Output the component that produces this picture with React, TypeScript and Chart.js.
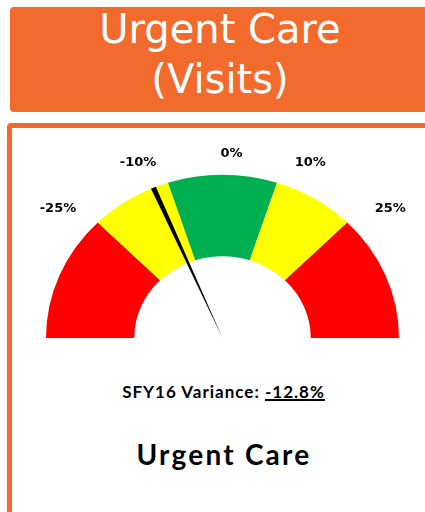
import React, { useEffect, useRef } from "react";
import { Chart, registerables } from "chart.js";

Chart.register(...registerables);

// ---- data ----
const BAND_EDGES = [-50, -25, -10, 10, 25, 50];
const BAND_NAMES = ["Low red", "Low yellow", "Green", "High yellow", "High red"];
const BAND_COLORS = ["#FF0000", "#FFFF00", "#00B050", "#FFFF00", "#FF0000"];
const TICK_VALUES = [-25, -10, 0, 10, 25];
const TICK_LABELS = ["-25%", "-10%", "0%", "10%", "25%"];
const VARIANCE = -12.8;
const TITLE_LINES = ["Urgent Care", "(Visits)"];
const VARIANCE_LABEL = "SFY16 Variance:";
const SUBTITLE = "Urgent Care";

const ORANGE = "#F26A2C";
const SQUASH = 0.925;

const bandSizes = BAND_EDGES.slice(1).map((e, i) => e - BAND_EDGES[i]);

const gaugePlugin = {
  id: "gaugeExtras",
  beforeDatasetsDraw(chart: any) {
    const arc: any = chart.getDatasetMeta(0).data[0];
    if (!arc) return;
    const { x, y } = arc;
    const ctx = chart.ctx;
    ctx.save();
    ctx.translate(x, y);
    ctx.scale(1, SQUASH);
    ctx.translate(-x, -y);
  },
  afterDatasetsDraw(chart: any) {
    const arc: any = chart.getDatasetMeta(0).data[0];
    if (!arc) return;
    const ctx = chart.ctx;
    const { x, y, outerRadius: R } = arc;
    const min = BAND_EDGES[0];
    const max = BAND_EDGES[BAND_EDGES.length - 1];
    const ang = (v: number) => Math.PI + (Math.PI * (v - min)) / (max - min);

    // needle (still in squashed space)
    const a = ang(VARIANCE);
    const tx = x + R * Math.cos(a);
    const ty = y + R * Math.sin(a);
    const hw = 2.6;
    const px = -Math.sin(a) * hw;
    const py = Math.cos(a) * hw;
    ctx.beginPath();
    ctx.moveTo(x, y);
    ctx.lineTo(tx + px, ty + py);
    ctx.lineTo(tx - px, ty - py);
    ctx.closePath();
    ctx.fillStyle = "#000";
    ctx.fill();
    ctx.restore();

    // tick labels
    ctx.save();
    ctx.font = "bold 13px 'DejaVu Sans'";
    ctx.fillStyle = "#000";
    ctx.textBaseline = "middle";
    TICK_VALUES.forEach((v, i) => {
      const ta = ang(v);
      const r = R * 1.14;
      let lx = x + r * Math.cos(ta);
      const ly = y + r * Math.sin(ta) * SQUASH + 2;
      if (v < 0) {
        ctx.textAlign = "right";
        lx -= 4;
      } else if (v > 0) {
        ctx.textAlign = "left";
        lx += 10;
      } else {
        ctx.textAlign = "center";
        lx += 9;
      }
      ctx.fillText(TICK_LABELS[i], lx, ly);
    });
    ctx.restore();
  },
};

export default function App() {
  const canvasRef = useRef<HTMLCanvasElement | null>(null);

  useEffect(() => {
    if (!canvasRef.current) return;
    const chart = new Chart(canvasRef.current, {
      type: "doughnut",
      data: {
        labels: BAND_NAMES,
        datasets: [
          {
            data: bandSizes,
            backgroundColor: BAND_COLORS,
            borderWidth: 0,
            hoverOffset: 0,
          },
        ],
      },
      options: {
        responsive: false,
        animation: false,
        events: [],
        rotation: -90,
        circumference: 180,
        cutout: "50%",
        layout: { padding: { left: 46, right: 26, top: 31.5, bottom: 22 } },
        plugins: { legend: { display: false }, tooltip: { enabled: false } },
      },
      plugins: [gaugePlugin],
    } as any);
    return () => chart.destroy();
  }, []);

  return (
    <div
      style={{
        position: "absolute",
        left: 0,
        top: 0,
        width: 425,
        height: 512,
        overflow: "hidden",
        background: "#fff",
      }}
    >
      {/* header */}
      <div
        style={{
          position: "absolute",
          left: 10,
          top: 7,
          width: 440,
          height: 105,
          background: ORANGE,
          borderRadius: 4,
        }}
      />
      <div
        style={{
          position: "absolute",
          left: 10,
          top: 4.4,
          width: 420,
          textAlign: "center",
          color: "#fff",
          fontFamily: "'DejaVu Sans', sans-serif",
          fontSize: 40,
          lineHeight: "50px",
          whiteSpace: "nowrap",
        }}
      >
        {TITLE_LINES.map((l) => (
          <div key={l}>{l}</div>
        ))}
      </div>

      {/* card */}
      <div
        style={{
          position: "absolute",
          left: 7,
          top: 123,
          width: 450,
          height: 420,
          border: `5px solid ${ORANGE}`,
          borderRadius: 4,
          boxSizing: "border-box",
          background: "#fff",
        }}
      />

      <canvas
        ref={canvasRef}
        width={425}
        height={230}
        style={{ position: "absolute", left: 0, top: 130, width: 425, height: 230 }}
      />

      <div
        style={{
          position: "absolute",
          left: 0.5,
          top: 381.7,
          width: 446,
          textAlign: "center",
          fontFamily: "Lato, sans-serif",
          fontWeight: 700,
          fontSize: 17,
          lineHeight: "20px",
          letterSpacing: "1px",
          color: "#000",
          whiteSpace: "nowrap",
        }}
      >
        {VARIANCE_LABEL}{" "}
        <span style={{ textDecoration: "underline", textDecorationThickness: "1.5px" }}>
          {VARIANCE.toFixed(1)}%
        </span>
      </div>

      <div
        style={{
          position: "absolute",
          left: 1,
          top: 436.5,
          width: 446,
          textAlign: "center",
          fontFamily: "Lato, sans-serif",
          fontWeight: 700,
          fontSize: 28,
          lineHeight: "34px",
          letterSpacing: "2.2px",
          color: "#000",
          whiteSpace: "nowrap",
        }}
      >
        {SUBTITLE}
      </div>
    </div>
  );
}
